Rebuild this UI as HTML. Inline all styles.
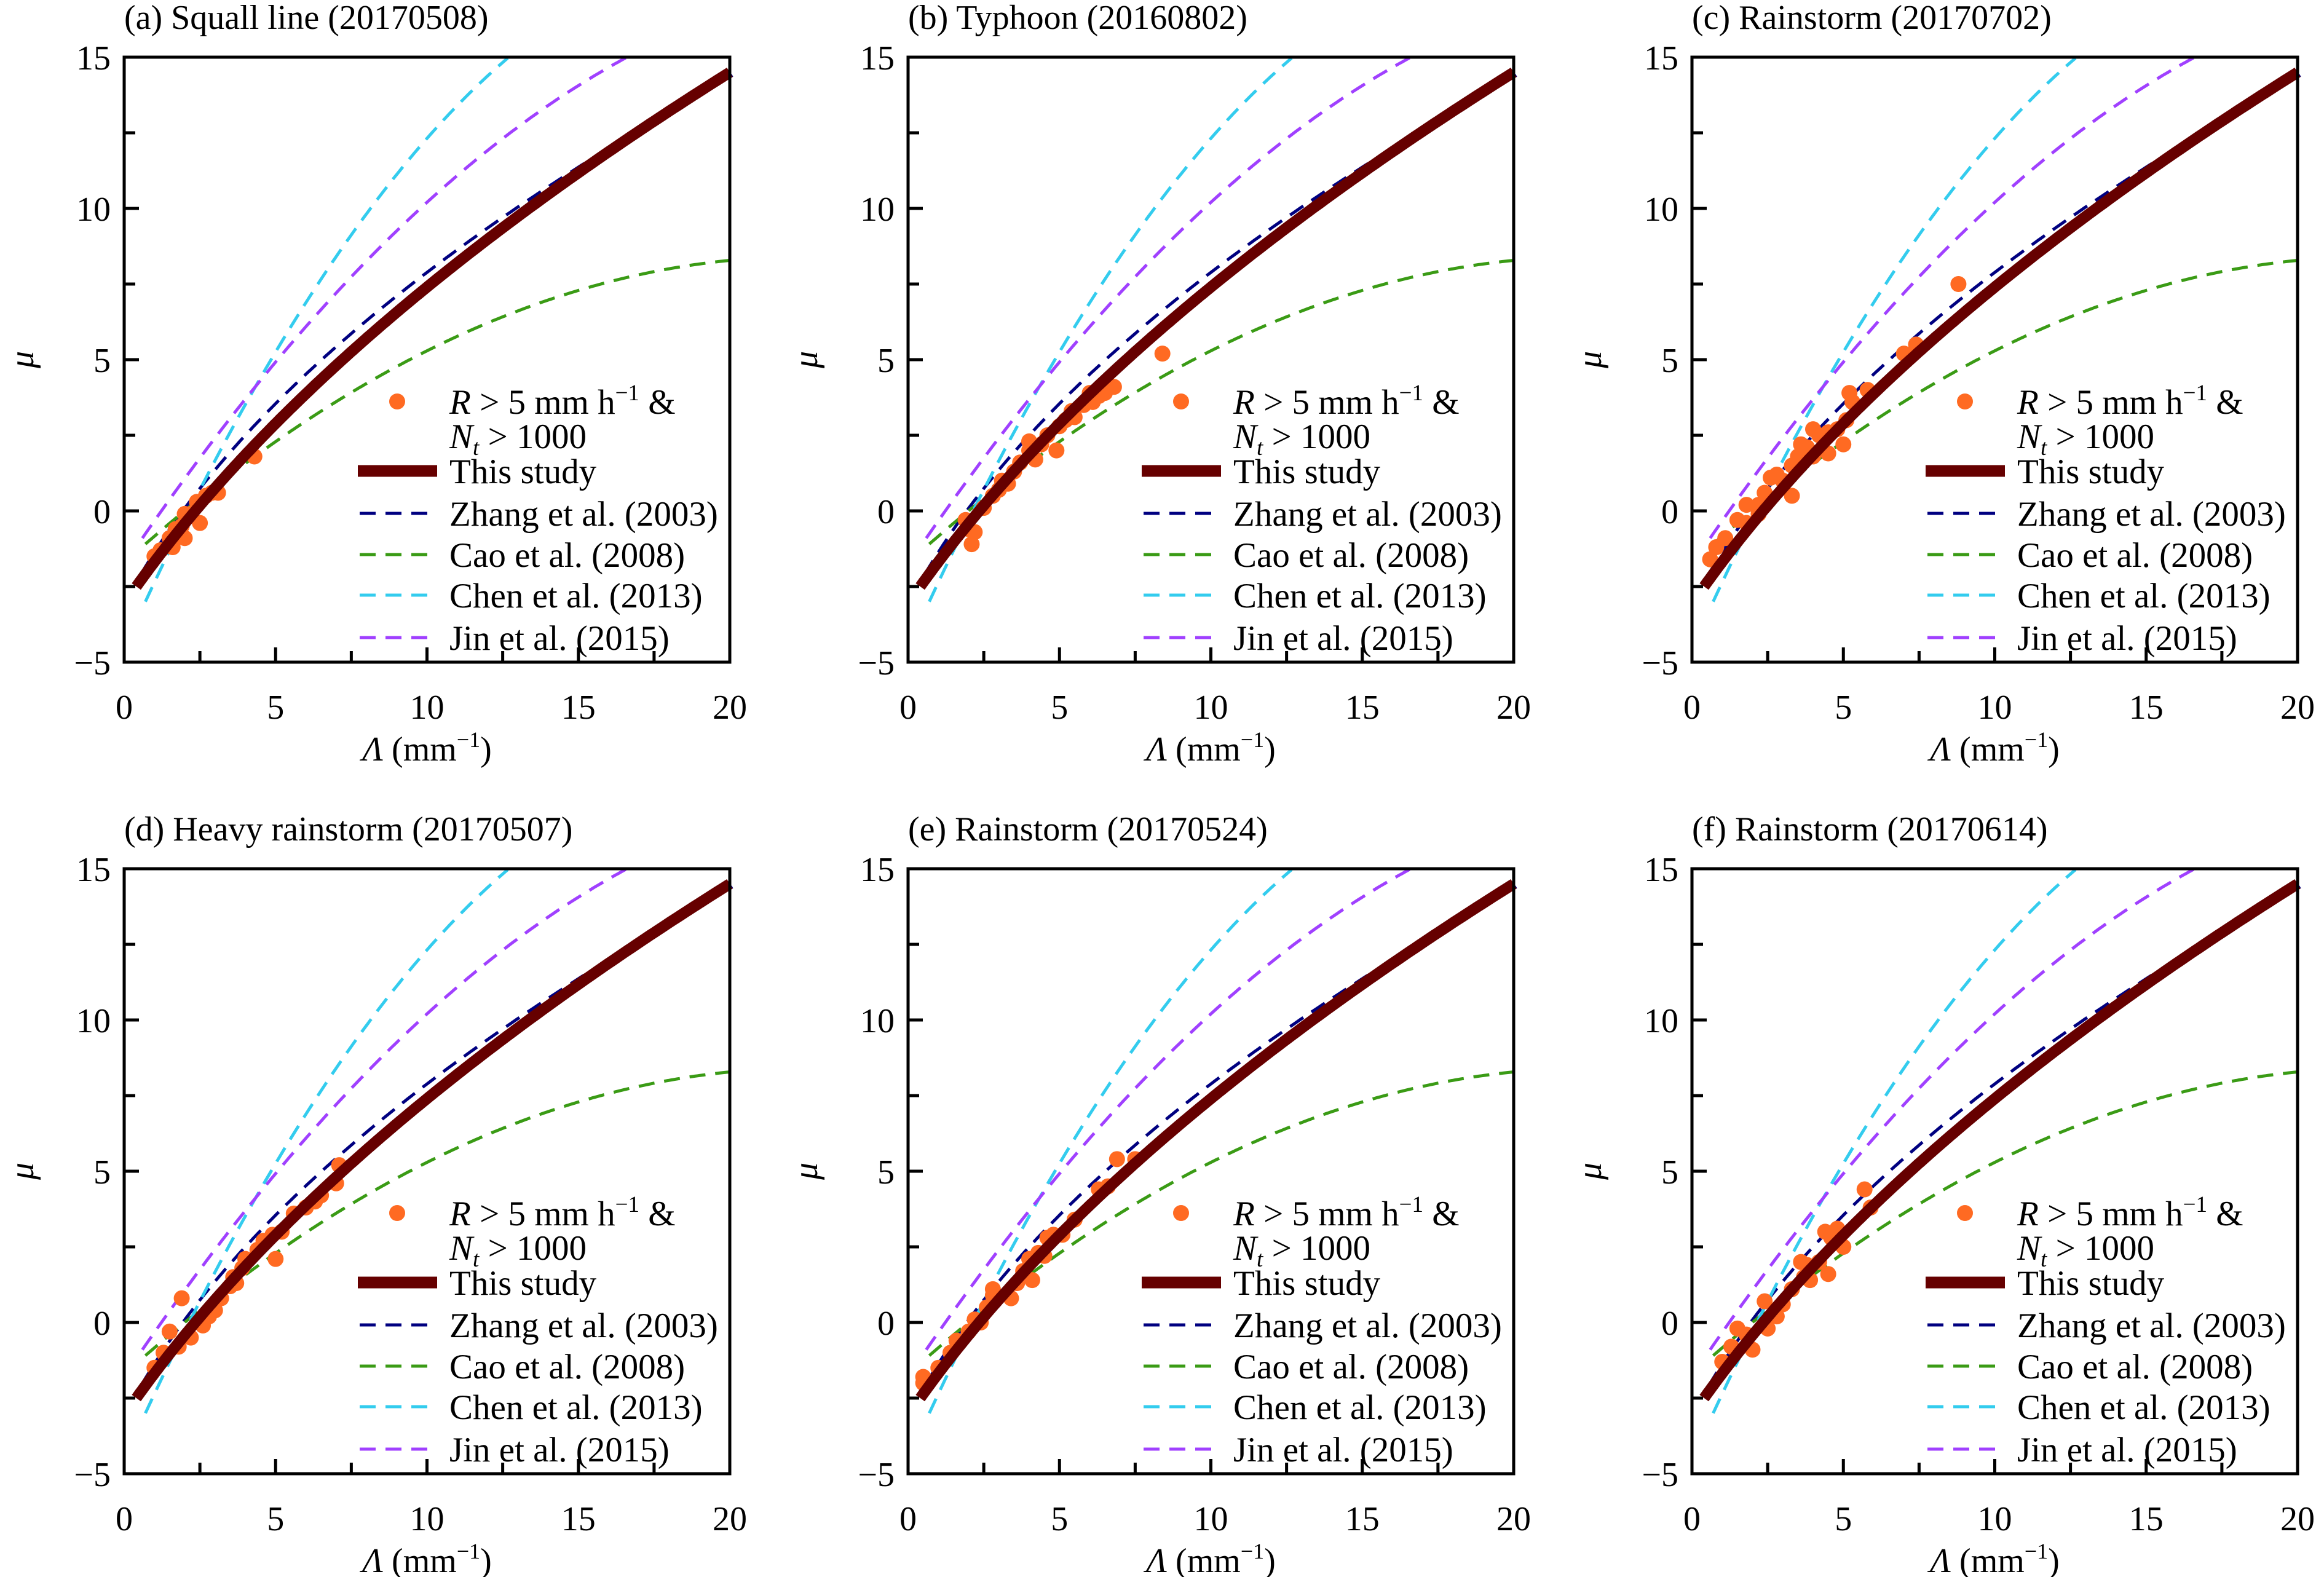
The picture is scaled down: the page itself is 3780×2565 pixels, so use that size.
<!DOCTYPE html>
<html><head><meta charset="utf-8">
<style>
html,body{margin:0;padding:0;background:#fff;}
svg{display:block;font-family:"Liberation Serif",serif;}
</style></head>
<body>
<svg id="fig" width="3780" height="2565" viewBox="0 0 3780 2565" xmlns="http://www.w3.org/2000/svg"></svg>
<script>
// ---- data ----
const panelTitles = ["(a) Squall line (20170508)","(b) Typhoon (20160802)","(c) Rainstorm (20170702)","(d) Heavy rainstorm (20170507)","(e) Rainstorm (20170524)","(f) Rainstorm (20170614)"];
const xTicks = [0,5,10,15,20];
const yTicks = [-5,0,5,10,15];
const legendLabels = ["This study","Zhang et al. (2003)","Cao et al. (2008)","Chen et al. (2013)","Jin et al. (2015)"];
// scatter data [lambda, mu]
const ptsA = [[1.0,-1.5],[1.2,-1.3],[1.5,-0.9],[1.7,-0.6],[2.0,-0.1],[2.2,-0.1],[2.5,-0.4],[2.4,0.3],[2.7,0.5],[1.9,-0.5],[1.6,-1.2],[3.1,0.6],[4.3,1.8],[2.9,0.6],[2.0,-0.9]];
const ptsB = [[2.1,-1.1],[2.0,-0.6],[1.9,-0.3],[2.5,0.1],[2.8,0.5],[3.0,0.7],[3.3,0.9],[3.5,1.3],[3.7,1.6],[4.0,2.0],[4.2,1.7],[4.4,2.2],[4.6,2.5],[5.0,2.8],[4.9,2.0],[5.2,3.0],[5.5,3.1],[5.8,3.5],[6.1,3.6],[6.3,3.8],[6.6,4.1],[6.8,4.1],[6.5,3.9],[4.0,2.3],[3.1,1.0],[8.4,5.2],[2.2,-0.7],[5.4,3.3],[6.0,3.9]];
const ptsC = [[0.6,-1.6],[0.8,-1.2],[1.1,-0.9],[1.5,-0.3],[1.8,0.2],[2.2,0.2],[2.4,0.6],[2.6,1.1],[2.8,1.2],[3.0,1.0],[3.3,1.5],[3.3,0.5],[3.5,1.8],[3.8,2.1],[3.6,2.2],[4.0,2.7],[4.2,2.5],[4.0,1.8],[4.5,2.6],[4.8,2.7],[5.1,3.0],[5.2,3.9],[5.3,3.6],[5.0,2.2],[4.5,1.9],[5.8,4.0],[7.0,5.2],[7.4,5.5],[8.8,7.5],[2.2,-0.1],[1.8,-0.4]];
const ptsD = [[1.0,-1.5],[1.3,-1.0],[1.5,-0.3],[1.9,0.8],[1.8,-0.8],[2.2,-0.5],[2.6,-0.1],[2.8,0.2],[3.0,0.4],[3.2,0.8],[3.5,1.2],[3.6,1.5],[3.9,1.8],[4.0,2.1],[4.4,2.4],[4.6,2.7],[4.9,2.9],[5.0,2.1],[5.2,3.0],[5.6,3.6],[6.0,3.8],[6.3,4.0],[6.5,4.2],[7.0,4.6],[7.1,5.2],[2.5,0.0],[3.7,1.3]];
const ptsE = [[0.5,-1.8],[0.5,-2.0],[1.0,-1.5],[1.4,-1.0],[1.6,-0.6],[2.0,-0.3],[2.2,0.1],[2.4,0.0],[2.6,0.5],[2.8,0.9],[2.8,1.1],[3.4,0.8],[3.6,1.3],[3.8,1.7],[4.1,1.4],[4.0,2.1],[4.3,2.3],[4.5,2.2],[4.6,2.8],[4.8,2.9],[5.1,2.9],[5.5,3.4],[6.3,4.4],[6.6,4.5],[6.9,5.4],[7.5,5.4]];
const ptsF = [[1.0,-1.3],[1.3,-0.8],[1.5,-0.2],[1.8,-0.4],[2.0,-0.9],[2.4,0.7],[2.5,-0.2],[2.8,0.2],[3.0,0.6],[3.3,1.1],[3.7,1.5],[3.8,1.9],[3.9,1.4],[4.2,2.0],[4.5,1.6],[4.4,3.0],[4.8,3.1],[5.0,2.5],[5.7,4.4],[5.9,3.8],[3.6,2.0],[4.6,2.8]];
const allPts = [ptsA,ptsB,ptsC,ptsD,ptsE,ptsF];
// relation coefficients
const thisCoef = [0.02577,0.8437,2.348];   // Λ = aμ²+bμ+c
const zhangCoef = [0.0365,0.735,1.935];    // Λ = aμ²+bμ+c
const caoCoef = [-0.0201,0.902,-1.718];    // μ = aΛ²+bΛ+c
const chenCoef = [-0.0545,2.230,-4.534];   // μ = aΛ²+bΛ+c
const jinCoef = [-0.0284,1.482,-1.779];    // μ = aΛ²+bΛ+c

// ---- drawing ----
const NS="http://www.w3.org/2000/svg";
const svg=document.getElementById('fig');
function mk(tag,attrs,parent){const e=document.createElementNS(NS,tag);for(const k in attrs)e.setAttribute(k,attrs[k]);(parent||svg).appendChild(e);return e;}
const colLeft=[202,1477,2752], rowTop=[93,1413];
const PW=985, PH=984;
const FS=56, LFS=57;

function curveMu(coef,l0,l1){const p=[];for(let i=0;i<=200;i++){const l=l0+(l1-l0)*i/200;const m=coef[0]*l*l+coef[1]*l+coef[2];if(m>15.02)break;p.push([l,m]);}return p;}
function curveLam(coef,m0,m1){const p=[];for(let i=0;i<=200;i++){const m=m0+(m1-m0)*i/200;const l=coef[0]*m*m+coef[1]*m+coef[2];p.push([l,m]);}return p;}

const series=[
 {name:'zhang-curve',color:'#000080',pts:curveLam(zhangCoef,-2.1,14.4)},
 {name:'cao-curve',color:'#3a9b15',pts:curveMu(caoCoef,0.7,20)},
 {name:'chen-curve',color:'#33ccee',pts:curveMu(chenCoef,0.7,20)},
 {name:'jin-curve',color:'#a040ff',pts:curveMu(jinCoef,0.6,20)}
];
const thisPts=curveLam(thisCoef,-2.5,14.5);

for(let p=0;p<6;p++){
  const L=colLeft[p%3], T=rowTop[Math.floor(p/3)];
  const xs=v=>L+v/20*PW, ys=v=>T+PH-(v+5)/20*PH;
  const g=mk('g',{});
  
  
  const t=mk('text',{x:L,y:T-46,'font-size':FS},g);t.textContent=panelTitles[p];
  
  for(let v=0;v<=20;v+=2.5){const major=v%5===0;const x=xs(v);mk('line',{x1:x,x2:x,y1:T+PH,y2:T+PH-(major?24:18),stroke:'#000','stroke-width':5},g);}
  for(let v=-5;v<=15;v+=2.5){const major=v%5===0;const y=ys(v);mk('line',{x1:L,x2:L+(major?24:18),y1:y,y2:y,stroke:'#000','stroke-width':5},g);}
  xTicks.forEach(v=>{const e=mk('text',{x:xs(v),y:T+PH+92,'font-size':FS,'text-anchor':'middle'},g);e.textContent=v;});
  yTicks.forEach(v=>{const e=mk('text',{x:L-22,y:ys(v)+20,'font-size':FS,'text-anchor':'end'},g);e.textContent=v<0?'\u2212'+Math.abs(v):v;});
  const xt=mk('text',{x:L+PW/2,y:T+PH+160,'font-size':FS,'text-anchor':'middle'},g);
  xt.innerHTML='<tspan font-style="italic">\u039B</tspan> (mm<tspan font-size="36" dy="-22">\u22121</tspan><tspan dy="22">)</tspan>';
  
  const yt=mk('text',{x:0,y:0,'font-size':FS,'font-style':'italic','text-anchor':'middle',transform:`translate(${L-148},${T+PH/2}) rotate(-90)`},g);
  yt.textContent='\u03BC';
  series.forEach(s=>{const d=s.pts.map((q,i)=>(i?'L':'M')+xs(q[0]).toFixed(1)+','+ys(q[1]).toFixed(1)).join('');
    const e=mk('path',{d:d,fill:'none',stroke:s.color,'stroke-width':5,'stroke-dasharray':'26,16'},g);
    });
  allPts[p].forEach(q=>{const c=mk('circle',{cx:xs(q[0]),cy:ys(q[1]),r:13,fill:'#ff6a22'},g);
    });
  const td=thisPts.map((q,i)=>(i?'L':'M')+xs(q[0]).toFixed(1)+','+ys(q[1]).toFixed(1)).join('');
  const th=mk('path',{d:td,fill:'none',stroke:'#660000','stroke-width':18},g);
  
  mk('rect',{x:L,y:T,width:PW,height:PH,fill:'none',stroke:'#000','stroke-width':5},g);
  const lg=mk('g',{},g);
  const tx=L+529;
  mk('circle',{cx:L+444,cy:T+560,r:13,fill:'#ff6a22'},lg);
  const r1=mk('text',{x:tx,y:T+580,'font-size':LFS},lg);
  r1.innerHTML='<tspan font-style="italic">R</tspan> &gt; 5 mm h<tspan font-size="37" dy="-22">\u22121</tspan><tspan dy="22"> &amp;</tspan>';
  const r2=mk('text',{x:tx,y:T+636,'font-size':LFS},lg);
  r2.innerHTML='<tspan font-style="italic">N</tspan><tspan font-style="italic" font-size="37" dy="11">t</tspan><tspan dy="-11"> &gt; 1000</tspan>';
  const ly=[673,742,809,875,944];
  mk('line',{x1:L+380,x2:L+509,y1:T+ly[0],y2:T+ly[0],stroke:'#660000','stroke-width':19},lg);
  series.forEach((s,i)=>{mk('line',{x1:L+383,x2:L+509,y1:T+ly[i+1],y2:T+ly[i+1],stroke:s.color,'stroke-width':5,'stroke-dasharray':'26,16'},lg);});
  legendLabels.forEach((s,i)=>{const e=mk('text',{x:tx,y:T+ly[i]+20,'font-size':LFS},lg);e.textContent=s;});
}
</script>
</body></html>
